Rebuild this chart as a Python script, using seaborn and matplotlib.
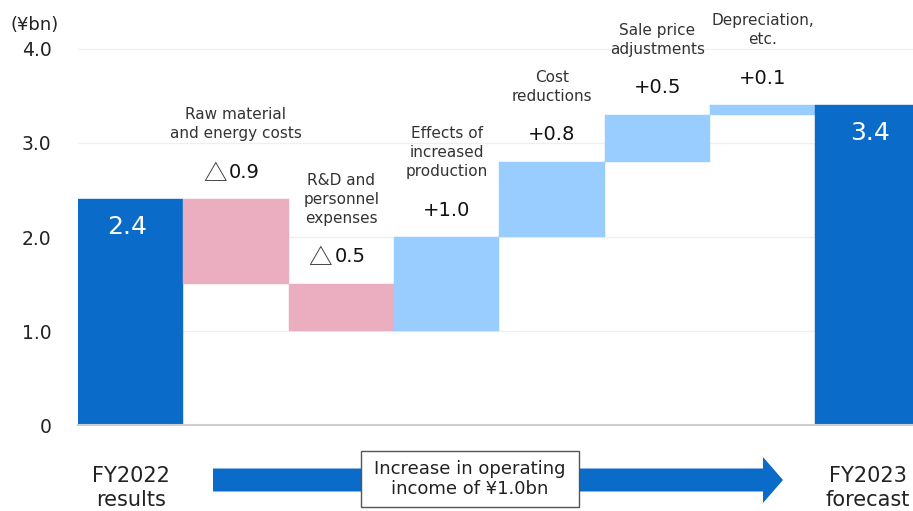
import numpy as np
import pandas as pd
import seaborn as sns
import matplotlib.pyplot as plt
from matplotlib.patches import FancyArrow, Rectangle
from matplotlib.transforms import blended_transform_factory

# data (¥bn)
categories = ['FY2022 results', 'Raw material and energy costs', 'R&D and personnel expenses',
              'Effects of increased production', 'Cost reductions', 'Sale price adjustments',
              'Depreciation, etc.', 'FY2023 forecast']
top_labels = ['', 'Raw material\nand energy costs', 'R&D and\npersonnel\nexpenses',
              'Effects of\nincreased\nproduction', 'Cost\nreductions', 'Sale price\nadjustments',
              'Depreciation,\netc.', '']
bottom_labels = ['FY2022\nresults', 'FY2023\nforecast']
start_value = 2.4
changes = [-0.9, -0.5, 1.0, 0.8, 0.5, 0.1]
end_value = 3.4
y_ticks = [0, 1, 2, 3, 4]
y_tick_labels = ['0', '1.0', '2.0', '3.0', '4.0']
box_text = 'Increase in operating\nincome of ¥1.0bn'

# colours
total_color = '#0a6bc8'
down_color = '#ebadc0'
up_color = '#99ccff'

# waterfall bottoms / heights
bottoms = [0.0]
heights = [start_value]
colors = [total_color]
running = start_value
for d in changes:
    if d < 0:
        bottoms.append(running + d)
        heights.append(-d)
        colors.append(down_color)
    else:
        bottoms.append(running)
        heights.append(d)
        colors.append(up_color)
    running += d
bottoms.append(0.0)
heights.append(end_value)
colors.append(total_color)

df = pd.DataFrame({'item': categories, 'height': heights, 'bottom': bottoms})

sns.set_style('white')
plt.rcParams['font.family'] = ['DejaVu Sans']

W, H = 913, 511
fig = plt.figure(figsize=(W / 100, H / 100), dpi=100)
ax = fig.add_axes([78 / W, 86 / H, 1 - 78 / W, 425 / H])

sns.barplot(data=df, x='item', y='height', bottom=df['bottom'].values, width=1.0,
            errorbar=None, linewidth=0, ax=ax, color=up_color)
for p, c in zip(ax.patches, colors):
    p.set_facecolor(c)
    p.set_edgecolor(c)
    p.set_linewidth(0.3)

ax.set_xlim(-0.5, -0.5 + 835 / 105.3)
ax.set_ylim(0, 425 / 94)
ax.set_yticks(y_ticks)
ax.set_yticklabels(y_tick_labels)
ax.set_xticks(np.arange(0.5, len(categories) - 1, 1.0))
ax.set_xticklabels([])
ax.set_xlabel('')
ax.set_ylabel('')
ax.tick_params(axis='y', length=0, pad=19, labelsize=13.5, labelcolor='#222222')
ax.tick_params(axis='x', length=3, direction='inout', color='#bdbdbd', width=1)
ax.yaxis.grid(True, color='#e9f1f6', lw=1)
ax.set_axisbelow(True)
for s in ['top', 'right', 'left']:
    ax.spines[s].set_visible(False)
ax.spines['bottom'].set_color('#cfcfcf')
ax.spines['bottom'].set_linewidth(1.5)

# change labels above each bar
for i in range(1, len(categories) - 1):
    d = changes[i - 1]
    top = bottoms[i] + heights[i]
    if d < 0:
        # full-width triangle in a CJK face, number in the normal face
        ax.annotate('△', (i, top), xytext=(-21, 25), textcoords='offset pixels',
                    ha='center', va='center', fontsize=17, color='#333333',
                    family=['Noto Sans CJK JP', 'DejaVu Sans'])
        ax.annotate('%.1f' % abs(d), (i, top), xytext=(-7, 27), textcoords='offset pixels',
                    ha='left', va='center', fontsize=14, color='#111111')
    else:
        ax.annotate('+%.1f' % d, (i, top), xytext=(0, 27), textcoords='offset pixels',
                    ha='center', va='center', fontsize=14, color='#111111')
    ax.annotate(top_labels[i], (i, top), xytext=(0, 58), textcoords='offset pixels',
                ha='center', va='bottom', fontsize=11, color='#333333', linespacing=1.35)

# totals inside the bars
for i in [0, len(categories) - 1]:
    top = bottoms[i] + heights[i]
    ax.annotate('%.1f' % heights[i], (i, top), xytext=(-4 if i == 0 else 2, -28),
                textcoords='offset pixels', ha='center', va='center', fontsize=18, color='white')

# bottom labels under the totals
trans = blended_transform_factory(ax.transData, fig.transFigure)
for i, lab in zip([0, len(categories) - 1], bottom_labels):
    fig.text(i, 1 - 488 / H, lab, transform=trans, ha='center', va='center',
             fontsize=15, color='#222222', linespacing=1.3)

fig.text(10 / W, 1 - 25 / H, '(¥bn)', ha='left', va='center', fontsize=13, color='#222222')

# overlay in pixel coords for arrow and box
ov = fig.add_axes([0, 0, 1, 1])
ov.set_xlim(0, W)
ov.set_ylim(H, 0)
ov.axis('off')
ov.patch.set_alpha(0)
ov.add_patch(FancyArrow(213, 480, 570, 0, width=23, head_width=46, head_length=20,
                        length_includes_head=True, color=total_color, lw=0))
ov.add_patch(Rectangle((361, 451), 218, 56, facecolor='white', edgecolor='#555555', lw=1))
ov.text(470, 479, box_text, ha='center', va='center', fontsize=13, color='#222222',
        linespacing=1.2)

fig.savefig('out.png', dpi=100)
